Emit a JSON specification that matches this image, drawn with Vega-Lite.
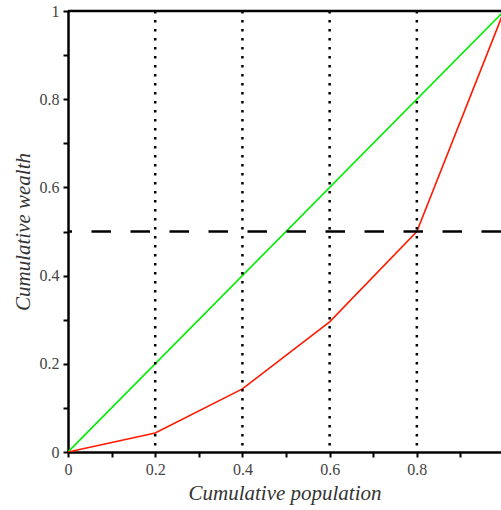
{
  "$schema": "https://vega.github.io/schema/vega-lite/v6.json",
  "width": 433,
  "height": 441,
  "autosize": "none",
  "padding": {"left": 68, "top": 11, "right": 0, "bottom": 58},
  "background": "white",
  "config": {
    "view": {"stroke": null},
    "axis": {
      "grid": false,
      "domainColor": "black",
      "domainWidth": 2.5,
      "tickColor": "black",
      "tickWidth": 2,
      "tickSize": 5,
      "labelFont": "Times",
      "labelFontSize": 16,
      "labelColor": "#444444",
      "labelFlush": false,
      "labelOverlap": false,
      "titleFont": "Times",
      "titleFontSize": 21,
      "titleFontStyle": "italic",
      "titleFontWeight": "normal",
      "titleColor": "#333333"
    }
  },
  "datasets": {
    "lorenz": [
      {"pop": 0, "wealth": 0},
      {"pop": 0.2, "wealth": 0.043},
      {"pop": 0.4, "wealth": 0.143},
      {"pop": 0.6, "wealth": 0.295},
      {"pop": 0.8, "wealth": 0.5},
      {"pop": 1, "wealth": 1}
    ],
    "equality": [
      {"pop": 0, "wealth": 0},
      {"pop": 1, "wealth": 1}
    ],
    "quintiles": [{"pop": 0.2}, {"pop": 0.4}, {"pop": 0.6}, {"pop": 0.8}],
    "half": [{"wealth": 0.5}],
    "frame": [{"wealth": 1}]
  },
  "layer": [
    {
      "data": {"name": "equality"},
      "mark": {"type": "line", "color": "#00ee00", "strokeWidth": 1.6, "clip": true},
      "encoding": {
        "x": {
          "field": "pop", "type": "quantitative",
          "scale": {"domain": [0, 0.993], "nice": false, "zero": false},
          "axis": {
            "title": "Cumulative population",
            "values": [0, 0.1, 0.2, 0.3, 0.4, 0.5, 0.6, 0.7, 0.8, 0.9],
            "format": "~g",
            "labelExpr": "round(datum.value*10) % 2 === 0 ? datum.label : ''",
            "labelPadding": 4,
            "titlePadding": 5,
            "encoding": {
              "ticks": {"update": {"y2": {"signal": "round(datum.value*10) % 2 === 0 ? 5 : 3"}}}
            }
          }
        },
        "y": {
          "field": "wealth", "type": "quantitative",
          "scale": {"domain": [0, 1], "nice": false},
          "axis": {
            "title": "Cumulative wealth",
            "values": [0, 0.1, 0.2, 0.3, 0.4, 0.5, 0.6, 0.7, 0.8, 0.9, 1],
            "format": "~g",
            "labelExpr": "round(datum.value*10) % 2 === 0 ? datum.label : ''",
            "labelPadding": 4,
            "titlePadding": 6,
            "encoding": {
              "ticks": {"update": {"x2": {"signal": "round(datum.value*10) % 2 === 0 ? -5 : -3"}}}
            }
          }
        }
      }
    },
    {
      "data": {"name": "lorenz"},
      "mark": {"type": "line", "color": "#ff1a00", "strokeWidth": 1.6, "clip": true},
      "encoding": {
        "x": {"field": "pop", "type": "quantitative"},
        "y": {"field": "wealth", "type": "quantitative"}
      }
    },
    {
      "data": {"name": "quintiles"},
      "mark": {"type": "rule", "color": "black", "strokeWidth": 2.5, "strokeDash": [2.5, 6.5]},
      "encoding": {
        "x": {"field": "pop", "type": "quantitative"}
      }
    },
    {
      "data": {"name": "half"},
      "mark": {"type": "rule", "color": "black", "strokeWidth": 2.5, "strokeDash": [19.5, 19.5]},
      "encoding": {
        "y": {"field": "wealth", "type": "quantitative"}
      }
    },
    {
      "data": {"name": "frame"},
      "mark": {"type": "rule", "color": "black", "strokeWidth": 2.5},
      "encoding": {
        "y": {"field": "wealth", "type": "quantitative"}
      }
    }
  ]
}
